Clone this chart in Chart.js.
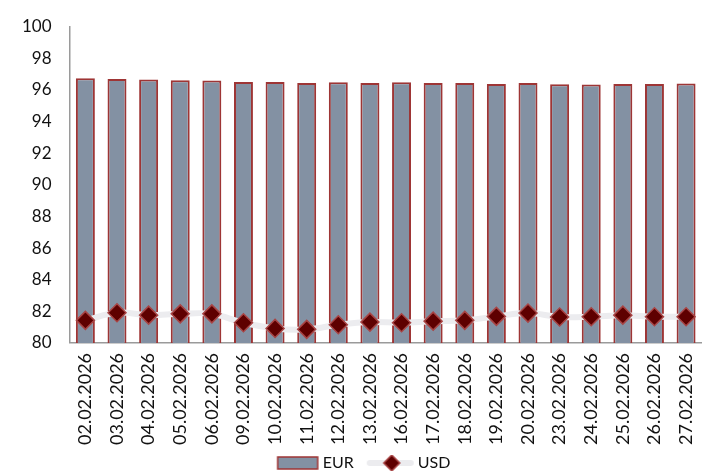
<!DOCTYPE html>
<html>
<head>
<meta charset="utf-8">
<script src="https://cdn.jsdelivr.net/npm/chart.js@4"></script>
<style>
  html, body { margin: 0; padding: 0; background: #fff; }
  #wrap { width: 718px; height: 471px; }
</style>
</head>
<body>
<div id="wrap"><canvas id="rates"></canvas></div>
<script>
const dates = ['02.02.2026', '03.02.2026', '04.02.2026', '05.02.2026', '06.02.2026',
  '09.02.2026', '10.02.2026', '11.02.2026', '12.02.2026', '13.02.2026',
  '16.02.2026', '17.02.2026', '18.02.2026', '19.02.2026', '20.02.2026',
  '23.02.2026', '24.02.2026', '25.02.2026', '26.02.2026', '27.02.2026']
const eur = [96.73, 96.69, 96.65, 96.60, 96.58, 96.50, 96.50, 96.43, 96.48, 96.43,
  96.48, 96.43, 96.43, 96.37, 96.43, 96.35, 96.33, 96.37, 96.37, 96.40]
const usd = [81.43, 81.91, 81.76, 81.84, 81.84, 81.28, 80.92, 80.86, 81.15, 81.32,
  81.28, 81.38, 81.43, 81.68, 81.89, 81.64, 81.66, 81.76, 81.66, 81.66]
const yTicks = [80, 82, 84, 86, 88, 90, 92, 94, 96, 98, 100]

const barFill = '#8391a3'
const barEdge = '#9e3535'
const lineGrey = '#ececef'
const markFill = '#5e0000'
const markEdge = '#a84444'

// 범례 아이콘: 캔버스를 조금 넓게 잡아 글자 쪽으로 붙임
const ICON_W = 66
function eurIcon() {
  const c = document.createElement('canvas')
  c.width = ICON_W; c.height = 14
  const g = c.getContext('2d')
  g.fillStyle = barFill
  g.fillRect(24, 1, 40, 12)
  g.strokeStyle = barEdge
  g.lineWidth = 1.5
  g.strokeRect(24, 1, 40, 12)
  return c
}
function usdIcon() {
  const c = document.createElement('canvas')
  c.width = ICON_W; c.height = 18
  const g = c.getContext('2d')
  g.strokeStyle = lineGrey
  g.lineWidth = 6
  g.lineCap = 'round'
  g.beginPath(); g.moveTo(21, 9); g.lineTo(62, 9); g.stroke()
  g.fillStyle = markFill
  g.strokeStyle = markEdge
  g.lineWidth = 1.5
  g.beginPath()
  g.moveTo(43, 1); g.lineTo(51, 9); g.lineTo(43, 17); g.lineTo(35, 9); g.closePath()
  g.fill(); g.stroke()
  return c
}

const ctx = document.getElementById('rates')
new Chart(ctx, {
  type: 'bar',
  data: {
    labels: dates,
    datasets: [
      {
        type: 'line',
        label: 'USD',
        data: usd,
        borderColor: lineGrey,
        borderWidth: 6,
        tension: 0.4,
        pointStyle: 'rectRot',
        pointRadius: 9,
        pointHoverRadius: 9,
        pointBackgroundColor: markFill,
        pointBorderColor: markEdge,
        pointBorderWidth: 1.5,
        order: 0
      },
      {
        label: 'EUR',
        data: eur,
        backgroundColor: barFill,
        borderColor: barEdge,
        borderWidth: 2,
        barPercentage: 0.6,
        categoryPercentage: 1,
        order: 1
      }
    ]
  },
  options: {
    responsive: true,
    maintainAspectRatio: false,
    animation: false,
    // 범례 아래 여백(고정 10px) 상쇄
    layout: { padding: { top: 0, right: 13, left: 4, bottom: -10 } },
    scales: {
      x: {
        grid: { display: false, drawTicks: false },
        border: { color: '#9a9a9a', width: 1.5 },
        ticks: {
          color: '#111',
          font: { family: 'Lato', size: 18 },
          minRotation: 90,
          maxRotation: 90,
          padding: 10,
          autoSkip: false
        }
      },
      y: {
        min: 80,
        max: 100,
        afterBuildTicks: axis => { axis.ticks = yTicks.map(v => ({ value: v })) },
        grid: { display: false, drawTicks: false },
        border: { color: '#9a9a9a', width: 1.5 },
        ticks: {
          color: '#111',
          font: { family: 'Lato', size: 17, lineHeight: 1 },
          padding: 18
        }
      }
    },
    plugins: {
      tooltip: { enabled: false },
      legend: {
        position: 'bottom',
        reverse: true,
        labels: {
          usePointStyle: true,
          pointStyleWidth: 56,
          boxHeight: 14,
          color: '#111',
          font: { family: 'Lato', size: 16, lineHeight: 1 },
          padding: 0,
          generateLabels: chart => chart.data.datasets.map((ds, i) => ({
            text: ds.label,
            pointStyle: ds.label === 'EUR' ? eurIcon() : usdIcon(),
            datasetIndex: i,
            fontColor: '#111',
            hidden: false,
            lineWidth: 0
          }))
        }
      }
    }
  }
})
</script>
</body>
</html>
